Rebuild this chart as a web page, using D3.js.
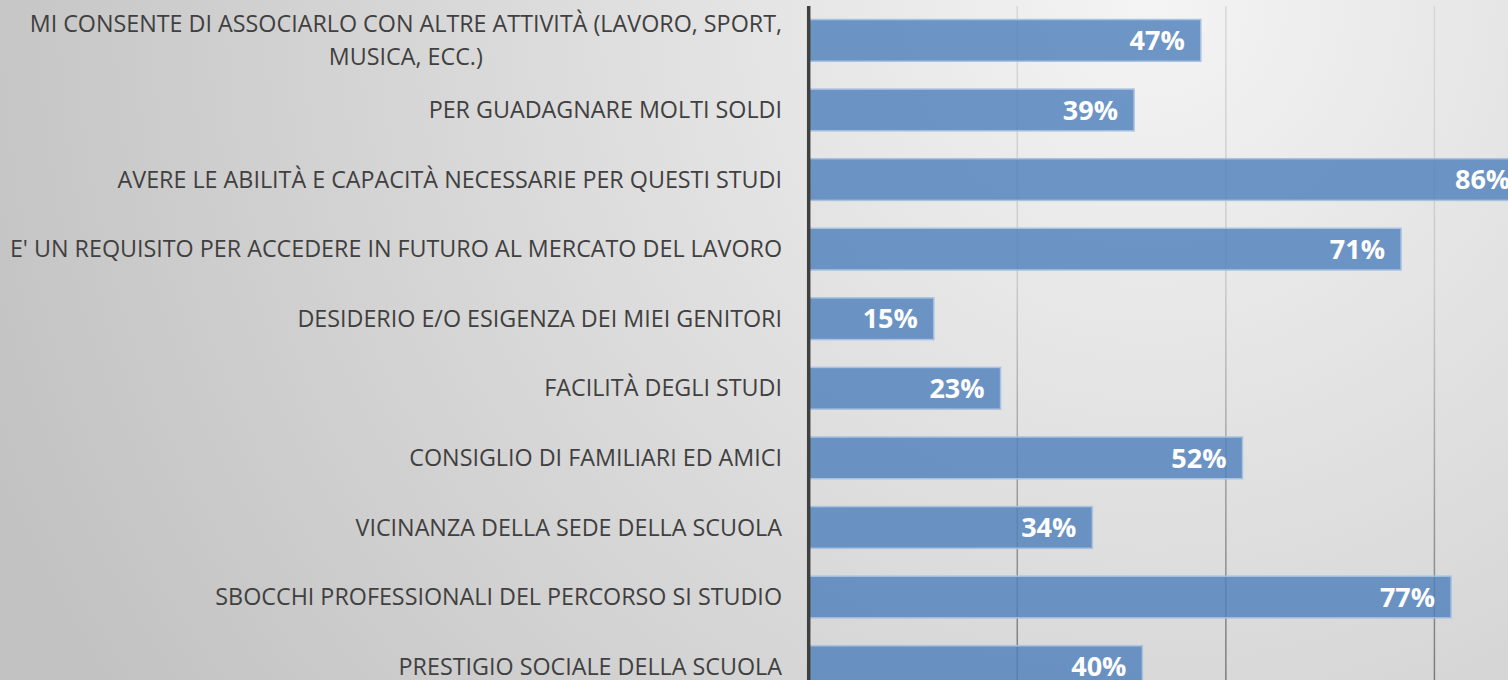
<!DOCTYPE html>
<html>
<head>
<meta charset="utf-8">
<script src="https://cdn.jsdelivr.net/npm/d3@7"></script>
<style>
  body { margin: 0; overflow: hidden; }
  text { font-family: "Open Sans", sans-serif; }
  .cat-label { fill: #404040; font-size: 23.3px; }
  .val-label { fill: white; font-size: 27px; font-weight: bold; }
</style>
</head>
<body>
<script>

// categories, top to bottom (long first one wraps onto two lines)
var categories = [
  ["MI CONSENTE DI ASSOCIARLO CON ALTRE ATTIVITÀ (LAVORO, SPORT,", "MUSICA, ECC.)"],
  ["PER GUADAGNARE MOLTI SOLDI"],
  ["AVERE LE ABILITÀ E CAPACITÀ NECESSARIE PER QUESTI STUDI"],
  ["E' UN REQUISITO PER ACCEDERE IN FUTURO AL MERCATO DEL LAVORO"],
  ["DESIDERIO E/O ESIGENZA DEI MIEI GENITORI"],
  ["FACILITÀ DEGLI STUDI"],
  ["CONSIGLIO DI FAMILIARI ED AMICI"],
  ["VICINANZA DELLA SEDE DELLA SCUOLA"],
  ["SBOCCHI PROFESSIONALI DEL PERCORSO SI STUDIO"],
  ["PRESTIGIO SOCIALE DELLA SCUOLA"]
];
var values = [47, 39, 86, 71, 15, 23, 52, 34, 77, 40];
var gridTicks = [25, 50, 75];

var width = 1508,
    height = 680;

var svg = d3.select("body").append("svg")
    .attr("width", width)
    .attr("height", height);

var defs = svg.append("defs");

// soft grey background, lightest near the top right
var grad = defs.append("radialGradient")
    .attr("id", "bg")
    .attr("gradientUnits", "userSpaceOnUse")
    .attr("cx", 1150).attr("cy", 0).attr("r", 1250);
grad.append("stop").attr("offset", "0%").attr("stop-color", "#f4f4f4");
grad.append("stop").attr("offset", "100%").attr("stop-color", "#c2c2c2");

// gridlines fade from light at top to darker at bottom
var gridGrad = defs.append("linearGradient")
    .attr("id", "gridgrad")
    .attr("gradientUnits", "userSpaceOnUse")
    .attr("x1", 0).attr("y1", 6).attr("x2", 0).attr("y2", 701);
gridGrad.append("stop").attr("offset", "0%").attr("stop-color", "#d8d8d8");
gridGrad.append("stop").attr("offset", "40%").attr("stop-color", "#cacaca");
gridGrad.append("stop").attr("offset", "72%").attr("stop-color", "#999999");
gridGrad.append("stop").attr("offset", "100%").attr("stop-color", "#787878");

svg.append("rect")
    .attr("width", width)
    .attr("height", height)
    .attr("fill", "url(#bg)");

var idx = d3.range(values.length);

var x = d3.scaleLinear()
    .domain([0, 100])
    .range([808.7, 1643]);

var y = d3.scaleBand()
    .domain(idx)
    .range([5.6, 701.4])
    .paddingInner(0.4)
    .paddingOuter(0.2);

// gridlines
svg.selectAll("rect.grid")
  .data(gridTicks).enter().append("rect")
    .attr("class", "grid")
    .attr("x", function(d) { return x(d) - 0.75; })
    .attr("y", 6)
    .attr("width", 1.5)
    .attr("height", 695)
    .attr("fill", "url(#gridgrad)");

// bars
svg.selectAll("rect.bar")
  .data(idx).enter().append("rect")
    .attr("class", "bar")
    .attr("x", x(0))
    .attr("y", function(i) { return y(i); })
    .attr("width", function(i) { return x(values[i]) - x(0); })
    .attr("height", y.bandwidth())
    .attr("fill", "#4f81bd")
    .attr("fill-opacity", 0.82)
    .attr("stroke", "#a9c2e0")
    .attr("stroke-width", 1.5);

// value labels
svg.selectAll("text.val-label")
  .data(idx).enter().append("text")
    .attr("class", "val-label")
    .attr("x", function(i) { return x(values[i]) - 16; })
    .attr("y", function(i) { return y(i) + y.bandwidth() / 2; })
    .attr("dy", "0.36em")
    .attr("text-anchor", "end")
    .text(function(i) { return values[i] + "%"; });

// vertical axis line
svg.append("line")
    .attr("x1", x(0)).attr("x2", x(0))
    .attr("y1", 6).attr("y2", 701)
    .attr("stroke", "#404040")
    .attr("stroke-width", 3.5);

// category labels
var lineGap = 33;
var labels = svg.selectAll("g.cat")
  .data(idx).enter().append("g")
    .attr("class", "cat")
    .attr("transform", function(i) {
      return "translate(782," + (y(i) + y.bandwidth() / 2) + ")";
    });

labels.each(function(i) {
  var g = d3.select(this);
  var lines = categories[i];
  var first = g.append("text")
      .attr("class", "cat-label")
      .attr("text-anchor", "end")
      .attr("y", -(lines.length - 1) * lineGap / 2)
      .attr("dy", "0.35em")
      .text(lines[0]);
  if (lines.length > 1) {
    var w = first.node().getComputedTextLength();
    for (var k = 1; k < lines.length; k++) {
      g.append("text")
          .attr("class", "cat-label")
          .attr("text-anchor", "middle")
          .attr("x", -w / 2)
          .attr("y", -(lines.length - 1) * lineGap / 2 + k * lineGap)
          .attr("dy", "0.35em")
          .text(lines[k]);
    }
  }
});

</script>
</body>
</html>
